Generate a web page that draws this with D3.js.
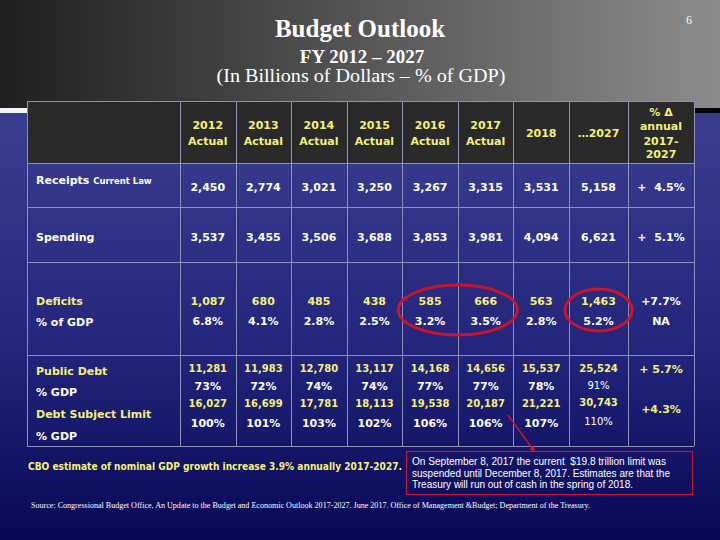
<!DOCTYPE html>
<html><head><meta charset="utf-8">
<script src="https://cdn.jsdelivr.net/npm/d3@7"></script>
<style>html,body{margin:0;padding:0;background:#0a0a58;}svg{display:block;}</style>
</head><body>
<script>
// ---- data ----
const years = ["2012","2013","2014","2015","2016","2017","2018","…2027"];
const actualFlags = [true,true,true,true,true,true,false,false];
const changeHeader = ["% Δ","annual","2017-","2027"];
const receipts = [2450,2774,3021,3250,3267,3315,3531,5158];
const receiptsChange = "+  4.5%";
const spending = [3537,3455,3506,3688,3853,3981,4094,6621];
const spendingChange = "+  5.1%";
const deficits = [1087,680,485,438,585,666,563,1463];
const deficitsChange = "+7.7%";
const deficitPct = [6.8,4.1,2.8,2.5,3.2,3.5,2.8,5.2];
const deficitPctChange = "NA";
const publicDebt = [11281,11983,12780,13117,14168,14656,15537,25524];
const publicDebtChange = "+ 5.7%";
const publicDebtPct = [73,72,74,74,77,77,78,91];
const debtLimit = [16027,16699,17781,18113,19538,20187,21221,30743];
const debtLimitChange = "+4.3%";
const debtLimitPct = [100,101,103,102,106,106,107,110];
const rowLabels = ["Receipts","Spending","Deficits","% of GDP","Public Debt","% GDP","Debt Subject Limit","% GDP"];
const circledCols = [[4,5],[7,7]];
const title = "Budget Outlook";
const subtitle1 = "FY 2012 – 2027";
const subtitle2 = "(In Billions of Dollars – % of GDP)";
const cboNote = "CBO estimate of nominal GDP growth increase 3.9% annually 2017-2027.";
const calloutLines = ["On September 8, 2017 the current  $19.8 trillion limit was",
  "suspended until December 8, 2017. Estimates are that the",
  "Treasury will run out of cash in the spring of 2018."];
const source = "Source: Congressional Budget Office,  An Update to the Budget and Economic Outlook 2017-2027. June 2017. Office of Management &Budget; Department of the Treasury.";

// ---- drawing ----
const W = 720, H = 540;
const YELLOW = "#f3f07c", WHITE = "#ffffff", GRID = "#8e90b8", RED = "#c8162c";
const svg = d3.select("body").append("svg").attr("width", W).attr("height", H);
const defs = svg.append("defs");
const gTop = defs.append("linearGradient").attr("id","gTop").attr("x1","0").attr("x2","1").attr("y1","0").attr("y2","0");
gTop.append("stop").attr("offset","0").attr("stop-color","#1f1f1f");
gTop.append("stop").attr("offset","1").attr("stop-color","#8c8c8c");
const gBody = defs.append("linearGradient").attr("id","gBody").attr("x1","0").attr("x2","0").attr("y1","0").attr("y2","1");
gBody.append("stop").attr("offset","0").attr("stop-color","#3b3e90");
gBody.append("stop").attr("offset","0.55").attr("stop-color","#23267c");
gBody.append("stop").attr("offset","1").attr("stop-color","#080856");
const mk = defs.append("marker").attr("id","arr").attr("viewBox","0 0 10 10").attr("refX",5).attr("refY",5)
  .attr("markerWidth",4).attr("markerHeight",4).attr("orient","auto");
mk.append("path").attr("d","M0,0L10,5L0,10z").attr("fill",RED);

svg.append("rect").attr("x",0).attr("y",108).attr("width",W).attr("height",H-108).attr("fill","url(#gBody)");
svg.append("rect").attr("x",0).attr("y",0).attr("width",W).attr("height",108).attr("fill","url(#gTop)");
svg.append("rect").attr("x",0).attr("y",108).attr("width",27).attr("height",5).attr("fill","#f4f4f4");
svg.append("rect").attr("x",694).attr("y",108).attr("width",26).attr("height",5).attr("fill","#050505");

// titles
const serif = "'Liberation Serif','Times New Roman',serif";
svg.append("text").attr("x",360).attr("y",37).attr("text-anchor","middle").attr("fill",WHITE)
  .attr("font-family",serif).attr("font-weight","bold").attr("font-size",25).text(title);
svg.append("text").attr("x",362).attr("y",63).attr("text-anchor","middle").attr("fill",WHITE)
  .attr("font-family",serif).attr("font-weight","bold").attr("font-size",19).text(subtitle1);
svg.append("text").attr("x",361).attr("y",82).attr("text-anchor","middle").attr("fill",WHITE)
  .attr("font-family",serif).attr("font-size",18.5).attr("textLength",289).attr("lengthAdjust","spacingAndGlyphs").text(subtitle2);
svg.append("text").attr("x",689).attr("y",24).attr("text-anchor","middle").attr("fill",WHITE)
  .attr("font-family",serif).attr("font-size",12).text("6");

// scales
const xEdge = d3.scaleLinear().domain([-1,0,7,8,9]).range([27,180,569,628,694]);
const xc = i => (xEdge(i)+xEdge(i+1))/2;
const yEdge = d3.scaleLinear().domain([0,1,2,3,4,5]).range([101,163,207,262,355,446]);

// header bg
svg.append("rect").attr("x",xEdge(-1)).attr("y",yEdge(0)).attr("width",xEdge(9)-xEdge(-1)).attr("height",yEdge(1)-yEdge(0)).attr("fill","#2a2a2a");

// grid
const grid = svg.append("g").attr("stroke",GRID).attr("stroke-width",1).attr("fill","none");
d3.range(-1,10).forEach(i => grid.append("line").attr("x1",Math.round(xEdge(i))+0.5).attr("x2",Math.round(xEdge(i))+0.5).attr("y1",yEdge(0)).attr("y2",yEdge(5)));
d3.range(0,6).forEach(j => grid.append("line").attr("x1",xEdge(-1)).attr("x2",xEdge(9)).attr("y1",Math.round(yEdge(j))+0.5).attr("y2",Math.round(yEdge(j))+0.5));

const sans = "'DejaVu Sans',Verdana,sans-serif";
function txt(x,y,s,color,size,anchor,weight){
  return svg.append("text").attr("x",x).attr("y",y).attr("fill",color).attr("font-family",sans)
    .attr("font-size",size).attr("font-weight",weight||"bold").attr("text-anchor",anchor||"middle").text(s);
}
const fmt = d3.format(",");
const pct1 = v => d3.format(".1f")(v)+"%";
const pct0 = v => v+"%";

// header
years.forEach((y,i) => {
  if (actualFlags[i]) { txt(xc(i),129,y,YELLOW,11); txt(xc(i),145,"Actual",YELLOW,11); }
  else txt(xc(i),137,y,YELLOW,11);
});
changeHeader.forEach((s,k) => txt(xc(8),[116,130,145,158][k],s,YELLOW,11));

// labels
const lx = 36;
const rl = txt(lx,184,"",WHITE,11,"start");
rl.append("tspan").text(rowLabels[0]+" ");
rl.append("tspan").attr("font-size",8.5).attr("dy",-0.5).text("Current Law");
txt(lx,241,rowLabels[1],WHITE,11,"start");
txt(lx,305,rowLabels[2],YELLOW,11,"start");
txt(lx,326,rowLabels[3],WHITE,11,"start");
txt(lx,375,rowLabels[4],YELLOW,11,"start");
txt(lx,396,rowLabels[5],WHITE,11,"start");
txt(lx,418,rowLabels[6],YELLOW,11,"start");
txt(lx,440,rowLabels[7],WHITE,11,"start");

// values
receipts.forEach((v,i) => txt(xc(i),191,fmt(v),WHITE,11));
txt(xc(8),191,receiptsChange,WHITE,11).attr("xml:space","preserve");
spending.forEach((v,i) => txt(xc(i),241,fmt(v),WHITE,11));
txt(xc(8),241,spendingChange,WHITE,11).attr("xml:space","preserve");
deficits.forEach((v,i) => txt(xc(i),305,fmt(v),YELLOW,11));
txt(xc(8),305,deficitsChange,WHITE,11);
deficitPct.forEach((v,i) => txt(xc(i),325,pct1(v),WHITE,11));
txt(xc(8),325,deficitPctChange,WHITE,11);
publicDebt.forEach((v,i) => txt(xc(i),372,fmt(v),YELLOW,10));
txt(xc(8),373,publicDebtChange,YELLOW,11);
publicDebtPct.forEach((v,i) => txt(xc(i),i===7?389:390,pct0(v),WHITE,i===7?10:11,"middle",i===7?"normal":"bold"));
debtLimit.forEach((v,i) => txt(xc(i),i===7?406:407,fmt(v),YELLOW,10));
txt(xc(8),413,debtLimitChange,YELLOW,11);
debtLimitPct.forEach((v,i) => txt(xc(i),i===7?425:427,pct0(v),WHITE,i===7?10:11,"middle",i===7?"normal":"bold"));

// circles
circledCols.forEach(([a,b]) => {
  const x0 = xEdge(a), x1 = xEdge(b+1);
  const wide = b > a;
  svg.append("ellipse").attr("cx",(x0+x1)/2).attr("cy",310)
    .attr("rx",(x1-x0)/2 + 4).attr("ry",wide?25:21)
    .attr("fill","none").attr("stroke",RED).attr("stroke-width",3);
});

// arrow
svg.append("line").attr("x1",xEdge(5)+50).attr("y1",415).attr("x2",xEdge(6)+20).attr("y2",450)
  .attr("stroke",RED).attr("stroke-width",1.5).attr("marker-end","url(#arr)");

// callout
svg.append("rect").attr("x",406.5).attr("y",451.5).attr("width",286).attr("height",43).attr("fill","none").attr("stroke",RED).attr("stroke-width",1.2);
const cl = [254,258,221];
calloutLines.forEach((s,k) => svg.append("text").attr("x",412).attr("y",465+k*11.7).attr("fill",WHITE)
  .attr("font-family","'Liberation Sans',Arial,sans-serif").attr("font-size",10).attr("textLength",cl[k])
  .attr("lengthAdjust","spacingAndGlyphs").attr("xml:space","preserve").text(s));

// notes
svg.append("text").attr("x",28).attr("y",470).attr("fill",YELLOW)
  .attr("font-family","'Liberation Sans Narrow','DejaVu Sans Condensed','Liberation Sans',sans-serif")
  .attr("font-weight","bold").attr("font-size",10.5)
  .attr("textLength",374).attr("lengthAdjust","spacingAndGlyphs").text(cboNote);
svg.append("text").attr("x",31).attr("y",508).attr("fill",WHITE).attr("font-family",serif).attr("font-size",8)
  .attr("textLength",559).attr("lengthAdjust","spacingAndGlyphs").text(source);
</script>
</body></html>
